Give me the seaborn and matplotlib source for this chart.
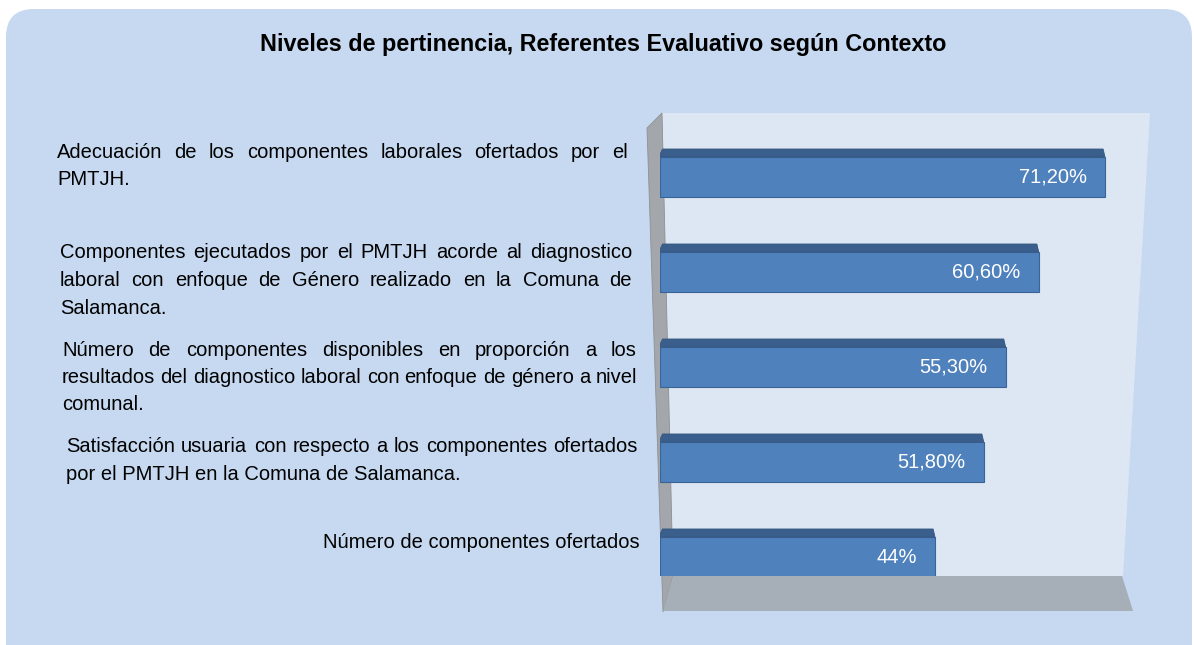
import matplotlib
matplotlib.use("Agg")
import matplotlib.pyplot as plt
import matplotlib.transforms as mtransforms
from matplotlib.patches import FancyBboxPatch, Polygon
import seaborn as sns
import pandas as pd

# datos
categorias = [
    "Adecuación de los componentes laborales ofertados por el\nPMTJH.",
    "Componentes ejecutados por el PMTJH acorde al diagnostico\nlaboral con enfoque de Género realizado en la Comuna de\nSalamanca.",
    "Número de componentes disponibles en proporción a los\nresultados del diagnostico laboral con enfoque de género a nivel\ncomunal.",
    "Satisfacción usuaria con respecto a los componentes ofertados\npor el PMTJH en la Comuna de Salamanca.",
    "Número de componentes ofertados",
]
valores = [71.2, 60.6, 55.3, 51.8, 44.0]
etiquetas = ["71,20%", "60,60%", "55,30%", "51,80%", "44%"]
titulo = "Niveles de pertinencia, Referentes Evaluativo según Contexto"

W, H = 1194, 645
sns.set_theme(style="white")
plt.rcParams["font.family"] = ["Liberation Sans", "DejaVu Sans"]
plt.rcParams["text.color"] = "black"

fig = plt.figure(figsize=(W / 100, H / 100), dpi=100)
fig.patch.set_facecolor("white")
ident = mtransforms.IdentityTransform()


def pix(pts):
    # pixeles con origen arriba-izquierda -> coords de pantalla
    return [(x, H - y) for x, y in pts]


# fondo redondeado
fig.patches.append(FancyBboxPatch((6, -60), 1186, H - 9 + 60,
                                  boxstyle="round,pad=0,rounding_size=28",
                                  fc="#C6D9F0", ec="none", transform=ident, zorder=-5))
# pared de fondo, pared izquierda y piso
fig.patches.append(Polygon(pix([(662, 113), (1150, 113), (1123, 576), (673, 576)]),
                           closed=True, fc="#DDE7F4", ec="none", transform=ident, zorder=-4))
fig.patches.append(Polygon(pix([(647, 128), (662, 113), (673, 576), (663, 612)]),
                           closed=True, fc="#A3A6AA", ec="#8E9196", lw=0.6, transform=ident, zorder=-3))
fig.patches.append(Polygon(pix([(673, 576), (1122, 576), (1133, 611), (663, 611)]),
                           closed=True, fc="#A6AEB8", ec="none", transform=ident, zorder=-3))

ax = fig.add_axes([660 / W, 1 - 576 / H, (1150 - 660) / W, (576 - 113) / H])
ax.set_facecolor("none")

df = pd.DataFrame({"categoria": categorias, "valor": valores})
sns.barplot(data=df, x="valor", y="categoria", orient="h", color="#4F81BD",
            saturation=1, width=0.42, edgecolor="#3B6496", linewidth=0.8, ax=ax)
ax.set_xlim(0, 78.4)
ax.set_ylim(4.2, -0.674)

prof = 0.085
for p, lab in zip(ax.patches, etiquetas):
    x, y, w, h = p.get_x(), p.get_y(), p.get_width(), p.get_height()
    ax.add_patch(Polygon([(x - 0.2, y), (x + w, y), (x + w - 0.3, y - prof), (x + 0.4, y - prof)],
                         closed=True, fc="#3A5F8C", ec="#36587F", lw=0.6))
    ax.text(x + w - 2.9, y + h / 2, lab, ha="right", va="center",
            color="white", fontsize=14.5)

ax.set_xticks([])
ax.set_yticks([])
ax.set_xlabel("")
ax.set_ylabel("")
sns.despine(ax=ax, left=True, bottom=True)

# titulo
fig.text(603, H - 45, titulo, transform=ident, ha="center", va="center",
         fontsize=16.8, fontweight="bold", color="black")

# etiquetas de categoria (texto justificado)
r = fig.canvas.get_renderer()
bloque_izq = [57, 60, 62, 66, None]
bloque_der = [628, 632, 637, 638, 640]
bloque_y = [152, 253, 350, 447, 543]
interlinea = 27.5
fs = 14.5

for cat, x0, x1, y0 in zip(categorias, bloque_izq, bloque_der, bloque_y):
    lineas = cat.split("\n")
    for i, linea in enumerate(lineas):
        yy = H - (y0 + i * interlinea)
        if x0 is None:
            fig.text(x1, yy, linea, transform=ident, ha="right", va="center", fontsize=fs)
            continue
        palabras = linea.split(" ")
        if i == len(lineas) - 1 or len(palabras) == 1:
            fig.text(x0, yy, linea, transform=ident, ha="left", va="center", fontsize=fs)
            continue
        textos = [fig.text(0, yy, pw, transform=ident, ha="left", va="center", fontsize=fs)
                  for pw in palabras]
        anchos = [t.get_window_extent(r).width for t in textos]
        hueco = (x1 - x0 - sum(anchos)) / (len(palabras) - 1)
        xx = x0
        for t, a in zip(textos, anchos):
            t.set_position((xx, yy))
            xx += a + hueco

fig.savefig("out.png", dpi=100, facecolor="white")
